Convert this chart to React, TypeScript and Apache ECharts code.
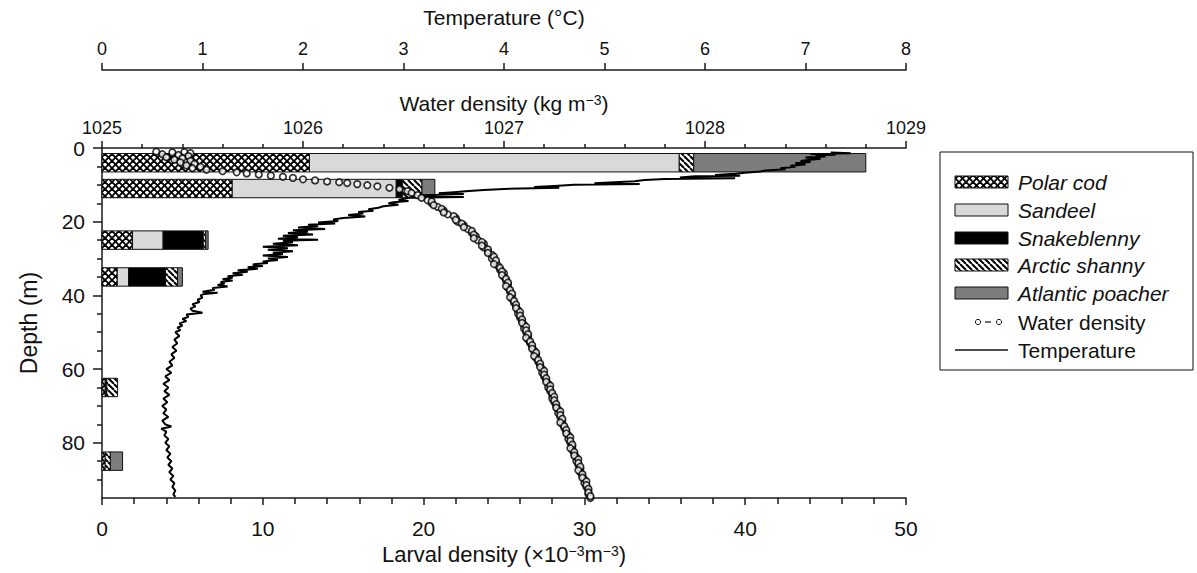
import React, { useEffect, useRef } from "react";
import * as echarts from "echarts";

const FONT = '"Liberation Sans", Arial, Helvetica, sans-serif';

// ---- Larval density by depth bin (×10^-3 m^-3), stacked horizontally ----
const sampleDepths = [4, 11, 25, 35, 65, 85];
const binHalfHeight = 2.5;
const polarCod = [12.9, 8.1, 1.9, 0.95, 0.2, 0.2];
const sandeel = [23.0, 10.2, 1.9, 0.7, 0, 0];
const snakeblenny = [0, 0.4, 2.5, 2.3, 0.1, 0];
const arcticShanny = [0.9, 1.2, 0.15, 0.75, 0.67, 0.32];
const atlanticPoacher = [10.7, 0.8, 0.15, 0.3, 0, 0.76];
const speciesNames = ["Polar cod", "Sandeel", "Snakeblenny", "Arctic shanny", "Atlantic poacher"];

// ---- Axis ticks ----
const depthLabelValues = [0, 20, 40, 60, 80];
const depthMinorValues = [5, 10, 15, 25, 30, 35, 45, 50, 55, 65, 70, 75, 85, 90];

// ---- Temperature profile: [depth m, °C] ----
const temperatureProfile: [number, number][] = [
  [1.2, 7.25], [1.4, 7.45], [1.6, 7.05], [1.8, 7.3], [2.0, 7.1], [2.3, 7.2], [2.6, 7.0], [2.9, 7.15],
  [3.2, 7.05], [3.5, 6.95], [3.8, 7.05], [4.1, 6.9], [4.5, 7.0], [4.8, 6.85], [5.1, 6.9], [5.5, 6.75],
  [5.8, 6.8], [6.1, 6.6], [6.4, 6.55], [6.7, 6.4], [7.0, 6.3], [7.3, 6.1], [7.5, 6.35], [7.7, 5.9],
  [8.0, 5.75], [8.2, 6.3], [8.4, 5.6], [8.7, 5.4], [9.0, 5.3], [9.3, 5.1], [9.6, 4.9], [9.8, 5.35],
  [10.0, 4.7], [10.3, 4.5], [10.6, 4.3], [10.8, 4.55], [11.1, 4.0], [11.4, 3.8], [11.7, 3.65], [12.0, 3.5],
  [12.3, 3.35], [12.5, 3.6], [12.8, 3.2], [13.1, 3.15], [13.3, 3.6], [13.5, 3.05], [13.8, 3.0], [14.1, 2.95],
  [14.4, 3.05], [14.7, 2.9], [15.0, 2.85], [15.4, 2.95], [15.8, 2.8], [16.2, 2.75], [16.6, 2.65], [17.0, 2.7],
  [17.4, 2.55], [17.8, 2.6], [18.2, 2.45], [18.6, 2.62], [19.0, 2.4], [19.4, 2.3], [19.8, 2.35], [20.2, 2.15],
  [20.5, 2.32], [20.8, 2.05], [21.2, 2.15], [21.6, 1.95], [22.0, 2.22], [22.3, 1.9], [22.7, 2.05], [23.1, 1.85],
  [23.5, 2.1], [23.8, 1.8], [24.2, 1.95], [24.6, 1.75], [24.9, 2.15], [25.2, 1.8], [25.6, 1.9], [26.0, 1.7],
  [26.4, 1.95], [26.8, 1.6], [27.2, 1.85], [27.6, 1.65], [28.0, 1.9], [28.4, 1.7], [28.8, 1.8], [29.2, 1.6],
  [29.6, 1.85], [30.0, 1.65], [30.4, 1.75], [30.8, 1.6], [31.2, 1.65], [31.6, 1.5], [32.0, 1.6], [32.4, 1.45],
  [32.8, 1.55], [33.2, 1.35], [33.6, 1.45], [34.0, 1.3], [34.4, 1.4], [34.8, 1.25], [35.2, 1.3], [35.6, 1.2],
  [36.0, 1.3], [36.4, 1.18], [36.8, 1.22], [37.2, 1.15], [37.6, 1.25], [38.0, 1.1], [38.5, 1.12], [39.0, 1.0],
  [39.3, 1.15], [39.6, 1.02], [40.0, 0.98], [40.6, 1.0], [41.2, 0.95], [41.8, 0.97], [42.4, 0.9], [43.0, 0.93],
  [43.6, 0.88], [44.2, 0.9], [44.7, 1.0], [45.2, 0.84], [45.8, 0.86], [46.4, 0.8], [47.0, 0.84], [47.6, 0.77],
  [48.2, 0.8], [48.8, 0.75], [49.4, 0.78], [50.0, 0.73], [51.0, 0.77], [52.0, 0.72], [53.0, 0.75], [54.0, 0.7],
  [55.0, 0.74], [56.0, 0.69], [57.0, 0.72], [58.0, 0.67], [59.0, 0.7], [60.0, 0.64], [61.0, 0.69], [62.0, 0.63],
  [63.0, 0.67], [64.0, 0.61], [65.0, 0.66], [66.0, 0.62], [67.0, 0.67], [68.0, 0.61], [69.0, 0.65], [70.0, 0.6],
  [71.0, 0.64], [72.0, 0.61], [73.0, 0.66], [74.0, 0.6], [75.0, 0.63], [75.6, 0.69], [76.2, 0.59], [77.0, 0.64],
  [78.0, 0.62], [79.0, 0.66], [80.0, 0.63], [81.0, 0.67], [82.0, 0.64], [83.0, 0.68], [84.0, 0.65], [85.0, 0.69],
  [86.0, 0.66], [87.0, 0.7], [88.0, 0.67], [89.0, 0.71], [90.0, 0.68], [91.0, 0.72], [92.0, 0.7], [93.0, 0.73],
  [94.0, 0.71], [94.7, 0.73],
];

// ---- Water density profile: [depth m, kg m^-3] ----
const densityProfile: [number, number][] = [
  [1.0, 1025.27], [1.2, 1025.35], [1.1, 1025.41], [1.4, 1025.44], [1.7, 1025.3], [1.9, 1025.38], [2.2, 1025.43],
  [2.5, 1025.32], [2.8, 1025.4], [3.2, 1025.36], [3.5, 1025.44], [3.9, 1025.39], [4.3, 1025.46], [4.7, 1025.42],
  [5.1, 1025.49], [5.5, 1025.45], [5.9, 1025.52], [6.3, 1025.6], [6.6, 1025.67], [6.9, 1025.72], [7.2, 1025.78],
  [7.5, 1025.84], [7.8, 1025.9], [8.1, 1025.95], [8.5, 1026.0], [8.8, 1026.06], [9.1, 1026.12], [9.3, 1026.18],
  [9.5, 1026.22], [9.8, 1026.27], [10.1, 1026.32], [10.4, 1026.37], [10.8, 1026.43], [11.2, 1026.48], [11.7, 1026.52],
  [12.2, 1026.54], [12.8, 1026.57], [13.5, 1026.59], [14.2, 1026.62], [15.0, 1026.64], [16.0, 1026.67], [17.0, 1026.7],
  [18.0, 1026.72], [19.0, 1026.76], [20.0, 1026.77], [21.0, 1026.8], [22.0, 1026.82], [23.0, 1026.84], [24.0, 1026.86],
  [25.0, 1026.87], [26.0, 1026.9], [27.0, 1026.9], [28.0, 1026.92], [29.0, 1026.94], [30.0, 1026.94], [31.0, 1026.96],
  [32.0, 1026.97], [33.0, 1026.98], [34.0, 1027.0], [35.0, 1027.0], [36.0, 1027.01], [37.0, 1027.02], [38.0, 1027.02],
  [39.0, 1027.03], [40.0, 1027.04], [41.0, 1027.04], [42.0, 1027.05], [43.0, 1027.06], [44.0, 1027.07], [45.0, 1027.07],
  [46.0, 1027.08], [47.0, 1027.09], [48.0, 1027.1], [49.0, 1027.1], [50.0, 1027.11], [51.0, 1027.12], [52.0, 1027.12],
  [53.0, 1027.13], [54.0, 1027.14], [55.0, 1027.15], [56.0, 1027.16], [57.0, 1027.16], [58.0, 1027.17], [59.0, 1027.18],
  [60.0, 1027.19], [61.0, 1027.19], [62.0, 1027.2], [63.0, 1027.21], [64.0, 1027.22], [65.0, 1027.22], [66.0, 1027.23],
  [67.0, 1027.24], [68.0, 1027.24], [69.0, 1027.25], [70.0, 1027.26], [71.0, 1027.27], [72.0, 1027.27], [73.0, 1027.28],
  [74.0, 1027.29], [75.0, 1027.29], [76.0, 1027.3], [77.0, 1027.31], [78.0, 1027.32], [79.0, 1027.32], [80.0, 1027.33],
  [81.0, 1027.34], [82.0, 1027.34], [83.0, 1027.35], [84.0, 1027.36], [85.0, 1027.36], [86.0, 1027.37], [87.0, 1027.38],
  [88.0, 1027.38], [89.0, 1027.39], [90.0, 1027.4], [91.0, 1027.4], [92.0, 1027.41], [93.0, 1027.42], [94.0, 1027.42],
  [95.0, 1027.43],
  [14.5, 1026.64], [15.5, 1026.65], [16.5, 1026.69], [17.5, 1026.7], [18.5, 1026.75], [19.5, 1026.76], [20.5, 1026.79],
  [21.5, 1026.8], [22.5, 1026.84], [23.5, 1026.85], [24.5, 1026.85], [25.5, 1026.89], [26.5, 1026.89], [27.5, 1026.92],
  [28.5, 1026.92], [29.5, 1026.95], [30.5, 1026.96], [31.5, 1026.95], [32.5, 1026.98], [33.5, 1026.99], [34.5, 1026.99],
  [35.5, 1027.01], [36.5, 1027.02], [37.5, 1027.01], [38.5, 1027.03], [39.5, 1027.04], [40.5, 1027.03], [41.5, 1027.05],
  [42.5, 1027.06], [43.5, 1027.06], [44.5, 1027.08], [45.5, 1027.08], [46.5, 1027.09], [47.5, 1027.09], [48.5, 1027.11],
  [49.5, 1027.11], [50.5, 1027.12], [51.5, 1027.11], [52.5, 1027.13], [53.5, 1027.14], [54.5, 1027.14], [55.5, 1027.16],
  [56.5, 1027.15], [57.5, 1027.17], [58.5, 1027.18], [59.5, 1027.18], [60.5, 1027.2], [61.5, 1027.2], [62.5, 1027.21],
  [63.5, 1027.21], [64.5, 1027.23], [65.5, 1027.23], [66.5, 1027.24], [67.5, 1027.25], [68.5, 1027.25], [69.5, 1027.26],
  [70.5, 1027.26], [71.5, 1027.28], [72.5, 1027.28], [73.5, 1027.29], [74.5, 1027.28], [75.5, 1027.3], [76.5, 1027.31],
  [77.5, 1027.31], [78.5, 1027.33], [79.5, 1027.33], [80.5, 1027.34], [81.5, 1027.33], [82.5, 1027.35], [83.5, 1027.35],
  [84.5, 1027.37], [85.5, 1027.37], [86.5, 1027.38], [87.5, 1027.37], [88.5, 1027.39], [89.5, 1027.39], [90.5, 1027.41],
  [91.5, 1027.41], [92.5, 1027.42], [93.5, 1027.42], [94.5, 1027.43],
];

function makeCrossHatch(): any {
  const s = 7;
  const c = document.createElement("canvas");
  c.width = s;
  c.height = s;
  const g = c.getContext("2d")!;
  g.fillStyle = "#fff";
  g.fillRect(0, 0, s, s);
  g.strokeStyle = "#000";
  g.lineWidth = 1.9;
  for (const o of [-s, 0, s]) {
    g.beginPath();
    g.moveTo(o, 0);
    g.lineTo(o + s, s);
    g.stroke();
    g.beginPath();
    g.moveTo(o + s, 0);
    g.lineTo(o, s);
    g.stroke();
  }
  return { image: c, repeat: "repeat", imageWidth: s, imageHeight: s };
}

function makeStripes(): any {
  const s = 6;
  const c = document.createElement("canvas");
  c.width = s;
  c.height = s;
  const g = c.getContext("2d")!;
  g.fillStyle = "#fff";
  g.fillRect(0, 0, s, s);
  g.strokeStyle = "#000";
  g.lineWidth = 2;
  for (const o of [-s, 0, s]) {
    g.beginPath();
    g.moveTo(o, 0);
    g.lineTo(o + s, s);
    g.stroke();
  }
  return { image: c, repeat: "repeat", imageWidth: s, imageHeight: s };
}

export default function App() {
  const ref = useRef<HTMLDivElement>(null);

  useEffect(() => {
    if (!ref.current) return;
    const chart = echarts.init(ref.current, undefined, { renderer: "svg" });

    const fills: any[] = [makeCrossHatch(), "#d9d9d9", "#000000", makeStripes(), "#7d7d7d"];
    const speciesValues = [polarCod, sandeel, snakeblenny, arcticShanny, atlanticPoacher];

    // cumulative stacking table
    const running = sampleDepths.map(() => 0);
    const barSeries = speciesValues.map((vals, si) => {
      const data: number[][] = [];
      vals.forEach((v, bi) => {
        const start = running[bi];
        const end = start + v;
        running[bi] = end;
        if (v > 0) data.push([start, end, sampleDepths[bi]]);
      });
      const fill = fills[si];
      return {
        type: "custom",
        name: speciesNames[si],
        xAxisIndex: 0,
        yAxisIndex: 0,
        encode: { x: [0, 1], y: 2 },
        z: 2,
        data,
        renderItem: (_p: any, api: any) => {
          const p1 = api.coord([api.value(0), api.value(2) - binHalfHeight]);
          const p2 = api.coord([api.value(1), api.value(2) + binHalfHeight]);
          return {
            type: "rect",
            shape: { x: p1[0], y: p1[1], width: p2[0] - p1[0], height: p2[1] - p1[1] },
            style: { fill, stroke: "#111", lineWidth: 1 },
          };
        },
      };
    });

    const axisColor = "#1a1a1a";
    const lineStyle = { color: axisColor, width: 1.5 };
    const supRich = { sup: { fontSize: 14, verticalAlign: "top", lineHeight: 14 } };

    // legend (drawn as graphics)
    const legendRows = [182, 210, 238, 265, 293, 322, 350];
    const legendEls: any[] = [
      {
        type: "rect",
        shape: { x: 940, y: 152, width: 253, height: 218 },
        style: { fill: "#fff", stroke: "#111", lineWidth: 1 },
      },
    ];
    speciesNames.forEach((n, i) => {
      legendEls.push({
        type: "rect",
        shape: { x: 955, y: legendRows[i] - 6, width: 53, height: 12 },
        style: { fill: fills[i], stroke: "#111", lineWidth: 1 },
      });
      legendEls.push({
        type: "text",
        x: 1018,
        y: legendRows[i],
        style: {
          text: n,
          fill: "#111",
          fontSize: 21,
          fontStyle: "italic",
          fontFamily: FONT,
          verticalAlign: "middle",
          align: "left",
        },
      });
    });
    const wy = legendRows[5];
    legendEls.push(
      { type: "circle", shape: { cx: 978, cy: wy, r: 2.6 }, style: { fill: "#fff", stroke: "#111", lineWidth: 1 } },
      { type: "line", shape: { x1: 985, y1: wy, x2: 991, y2: wy }, style: { stroke: "#111", lineWidth: 1.2 } },
      { type: "circle", shape: { cx: 999, cy: wy, r: 2.6 }, style: { fill: "#fff", stroke: "#111", lineWidth: 1 } },
      {
        type: "text",
        x: 1018,
        y: wy,
        style: { text: "Water density", fill: "#111", fontSize: 21, fontFamily: FONT, verticalAlign: "middle" },
      }
    );
    const ty = legendRows[6];
    legendEls.push(
      { type: "line", shape: { x1: 955, y1: ty, x2: 1008, y2: ty }, style: { stroke: "#111", lineWidth: 1.5 } },
      {
        type: "text",
        x: 1018,
        y: ty,
        style: { text: "Temperature", fill: "#111", fontSize: 21, fontFamily: FONT, verticalAlign: "middle" },
      }
    );

    chart.setOption({
      animation: false,
      backgroundColor: "#fff",
      textStyle: { fontFamily: FONT, color: "#111" },
      grid: { left: 102, right: 291, top: 148, bottom: 75, containLabel: false },
      xAxis: [
        {
          type: "value",
          position: "bottom",
          min: 0,
          max: 50,
          interval: 10,
          axisLine: { show: true, onZero: false, lineStyle },
          axisTick: { show: true, length: 7, lineStyle },
          minorTick: { show: true, splitNumber: 5, length: 6, lineStyle },
          splitLine: { show: false },
          minorSplitLine: { show: false },
          axisLabel: { fontSize: 21, color: "#111", margin: 20 },
          name: "Larval density (×10{sup|−3}m{sup|−3})",
          nameLocation: "middle",
          nameGap: 44,
          nameTextStyle: { fontSize: 22, color: "#111", rich: supRich },
        },
        {
          type: "value",
          position: "top",
          min: 1025,
          max: 1029,
          interval: 1,
          axisLine: { show: true, onZero: false, lineStyle },
          axisTick: { show: true, length: 7, lineStyle },
          minorTick: { show: true, splitNumber: 5, length: 4, lineStyle },
          splitLine: { show: false },
          minorSplitLine: { show: false },
          axisLabel: { fontSize: 18, color: "#111", margin: 11, formatter: (v: number) => String(v) },
          name: "Water density (kg m{sup|−3})",
          nameLocation: "middle",
          nameGap: 34,
          nameTextStyle: { fontSize: 21, color: "#111", rich: supRich },
        },
        {
          type: "value",
          position: "top",
          offset: 78,
          min: 0,
          max: 8,
          interval: 1,
          axisLine: { show: true, onZero: false, lineStyle },
          axisTick: { show: true, length: 7, lineStyle },
          splitLine: { show: false },
          axisLabel: { fontSize: 18, color: "#111", margin: 12 },
          name: "Temperature (°C)",
          nameLocation: "middle",
          nameGap: 42,
          nameTextStyle: { fontSize: 21, color: "#111" },
        },
      ],
      yAxis: [
        {
          type: "value",
          position: "left",
          inverse: true,
          min: 0,
          max: 95,
          axisLine: { show: true, onZero: false, lineStyle },
          axisTick: { show: true, length: 9, lineStyle, customValues: depthLabelValues },
          axisLabel: { fontSize: 21, color: "#111", margin: 17, customValues: depthLabelValues },
          splitLine: { show: false },
          name: "Depth (m)",
          nameLocation: "middle",
          nameGap: 62,
          nameTextStyle: { fontSize: 23, color: "#111" },
        },
        {
          type: "value",
          position: "left",
          inverse: true,
          min: 0,
          max: 95,
          axisLine: { show: false, onZero: false },
          axisTick: { show: true, length: 5, lineStyle, customValues: depthMinorValues },
          axisLabel: { show: false },
          splitLine: { show: false },
        },
      ],
      series: [
        ...barSeries,
        {
          type: "line",
          name: "Temperature",
          xAxisIndex: 2,
          yAxisIndex: 0,
          z: 3,
          showSymbol: false,
          symbol: "none",
          lineStyle: { color: "#000", width: 2 },
          data: temperatureProfile.map(([d, t]) => [t, d]),
        },
        {
          type: "scatter",
          name: "Water density",
          xAxisIndex: 1,
          yAxisIndex: 0,
          z: 4,
          symbol: "circle",
          symbolSize: 6.5,
          itemStyle: { color: "#fff", borderColor: "#000", borderWidth: 1.7 },
          data: densityProfile.map(([d, rho]) => [rho, d]),
        },
      ],
      graphic: { elements: legendEls },
    });

    return () => chart.dispose();
  }, []);

  return (
    <div
      ref={ref}
      style={{ position: "fixed", left: 0, top: 0, width: 1197, height: 573, background: "#fff" }}
    />
  );
}
